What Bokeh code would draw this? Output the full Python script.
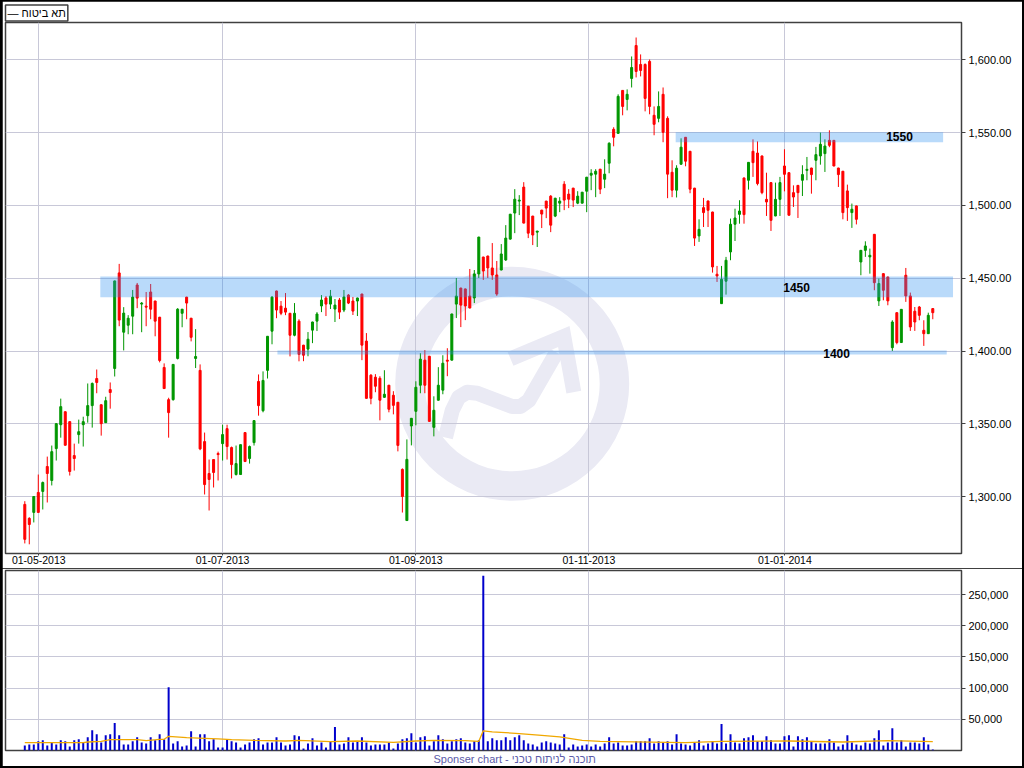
from bokeh.plotting import figure
from bokeh.layouts import column
from bokeh.models import (FixedTicker, NumeralTickFormatter, Range1d, Title, ColumnDataSource)
from bokeh.embed import file_html
from bokeh.resources import INLINE
from bokeh.core.properties import value

# ---------------- data ----------------
SERIES_NAME = "תא ביטוח"
FOOTER = "Sponser chart - תוכנה לניתוח טכני"

OPEN = [1294.8, 1285.2, 1289.3, 1303.0, 1303.7, 1320.8, 1311.2, 1333.1, 1349.5, 1358.4,
        1351.6, 1328.3, 1342.7, 1349.5, 1355.7, 1362.6, 1381.2, 1363.2, 1350.9, 1373.6,
        1388.1, 1453.7, 1413.0, 1417.8, 1424.0, 1445.4, 1432.3, 1430.9, 1440.6, 1434.4,
        1423.3, 1388.8, 1366.7, 1366.7, 1395.0, 1426.0, 1437.1, 1422.6, 1395.0, 1386.8,
        1337.9, 1316.0, 1325.6, 1329.7, 1336.5, 1346.8, 1333.8, 1315.3, 1315.3, 1344.1,
        1326.3, 1337.2, 1379.2, 1359.1, 1386.8, 1413.7, 1441.3, 1430.9, 1429.5, 1426.0,
        1410.9, 1420.6, 1404.1, 1401.4, 1414.4, 1420.6, 1431.0, 1436.5, 1432.3, 1428.9,
        1435.1, 1428.2, 1438.5, 1434.4, 1434.4, 1439.2, 1406.9, 1383.5, 1382.1, 1381.4,
        1368.3, 1376.6, 1369.7, 1364.9, 1318.8, 1283.7, 1348.6, 1358.7, 1376.6, 1393.8,
        1396.5, 1347.7, 1366.3, 1373.2, 1393.8, 1393.8, 1432.3, 1443.3, 1442.7, 1437.8,
        1436.5, 1453.0, 1464.6, 1465.3, 1457.1, 1452.3, 1455.7, 1462.6, 1476.9, 1494.8,
        1503.0, 1512.6, 1499.5, 1492.7, 1481.7, 1496.8, 1503.0, 1506.4, 1492.7, 1501.6,
        1514.6, 1507.8, 1511.9, 1501.6, 1501.6, 1509.8, 1520.8, 1521.5, 1524.9, 1518.0,
        1529.0, 1552.3, 1549.5, 1579.0, 1572.8, 1587.2, 1609.8, 1596.8, 1596.8, 1598.9,
        1561.9, 1559.8, 1576.3, 1559.8, 1522.8, 1510.5, 1528.3, 1546.8, 1537.2, 1511.9,
        1479.1, 1498.5, 1503.1, 1495.5, 1452.8, 1432.6, 1448.0, 1468.1, 1487.1, 1493.9,
        1518.9, 1517.3, 1537.2, 1536.0, 1534.0, 1504.2, 1515.7, 1492.8, 1504.2, 1527.1,
        1522.5, 1508.8, 1513.8, 1517.3, 1524.1, 1525.7, 1531.0, 1534.0, 1535.6, 1544.7,
        1544.7, 1525.7, 1523.5, 1510.0, 1495.1, 1499.7, 1461.2, 1469.2, 1464.7, 1480.2,
        1434.5, 1453.2, 1450.9, 1402.4, 1426.4, 1405.9, 1452.1, 1437.9, 1427.4, 1430.3,
        1414.3, 1412.0, 1429.2]
HIGH = [1297.0, 1286.0, 1300.2, 1315.3, 1310.5, 1327.6, 1335.2, 1350.5, 1367.4, 1358.6,
        1351.8, 1336.5, 1353.0, 1355.0, 1377.8, 1378.5, 1387.4, 1363.4, 1368.7, 1378.5,
        1448.4, 1459.9, 1430.2, 1424.7, 1442.0, 1446.8, 1433.7, 1440.6, 1446.1, 1434.6,
        1423.5, 1391.6, 1368.0, 1391.0, 1429.5, 1428.9, 1437.3, 1422.8, 1415.1, 1390.9,
        1344.1, 1325.6, 1325.8, 1331.0, 1349.5, 1349.5, 1334.5, 1335.2, 1335.9, 1344.3,
        1335.2, 1352.5, 1384.0, 1386.1, 1410.4, 1437.8, 1441.5, 1434.4, 1439.9, 1426.2,
        1433.0, 1421.9, 1404.3, 1413.1, 1420.2, 1426.8, 1438.5, 1437.8, 1442.0, 1435.8,
        1436.5, 1442.0, 1439.2, 1437.2, 1436.7, 1439.4, 1412.4, 1384.2, 1384.2, 1382.8,
        1386.9, 1376.8, 1372.5, 1365.1, 1319.5, 1339.4, 1354.1, 1379.3, 1398.6, 1400.7,
        1396.7, 1369.0, 1389.0, 1397.2, 1402.0, 1425.7, 1450.2, 1443.5, 1442.9, 1456.4,
        1455.7, 1478.5, 1464.8, 1465.5, 1474.2, 1461.9, 1473.5, 1486.5, 1494.2, 1511.2,
        1507.1, 1516.0, 1499.7, 1492.9, 1482.6, 1497.0, 1503.2, 1507.1, 1505.2, 1505.7,
        1516.7, 1511.2, 1512.1, 1509.8, 1509.3, 1519.6, 1524.9, 1524.9, 1525.1, 1531.7,
        1543.4, 1553.7, 1576.3, 1579.2, 1579.7, 1602.3, 1615.3, 1603.7, 1597.5, 1600.2,
        1568.0, 1578.3, 1581.0, 1561.2, 1531.0, 1527.6, 1546.1, 1547.0, 1537.4, 1512.1,
        1490.5, 1505.2, 1503.3, 1495.7, 1458.5, 1458.5, 1464.7, 1491.0, 1497.8, 1503.6,
        1519.1, 1529.8, 1545.4, 1544.0, 1534.2, 1522.5, 1515.9, 1515.7, 1519.6, 1538.6,
        1522.7, 1513.8, 1514.0, 1527.6, 1533.3, 1525.9, 1540.2, 1550.0, 1545.4, 1551.6,
        1544.9, 1525.9, 1523.7, 1514.3, 1501.3, 1499.9, 1469.4, 1475.4, 1470.4, 1480.4,
        1449.8, 1453.4, 1451.1, 1421.2, 1426.6, 1428.9, 1457.1, 1440.2, 1430.3, 1431.0,
        1421.2, 1426.4, 1429.4]
LOW = [1268.0, 1267.4, 1282.4, 1289.3, 1291.3, 1296.1, 1307.8, 1324.9, 1340.6, 1335.2,
       1314.6, 1318.0, 1336.5, 1334.5, 1350.9, 1347.5, 1371.1, 1342.0, 1350.7, 1360.5,
       1382.6, 1417.1, 1400.5, 1411.6, 1411.6, 1429.5, 1413.0, 1417.1, 1421.9, 1410.2,
       1392.3, 1374.0, 1340.6, 1366.0, 1394.3, 1416.4, 1421.9, 1406.7, 1388.4, 1332.0,
       1301.6, 1290.6, 1306.4, 1311.2, 1324.9, 1325.6, 1312.6, 1314.6, 1315.1, 1324.0,
       1322.8, 1335.2, 1355.7, 1358.0, 1381.2, 1404.7, 1422.6, 1424.7, 1424.7, 1396.4,
       1410.2, 1393.0, 1393.1, 1396.5, 1405.5, 1413.8, 1426.8, 1424.1, 1428.9, 1420.0,
       1422.0, 1426.8, 1432.3, 1424.8, 1424.1, 1393.8, 1367.4, 1363.5, 1371.8, 1352.5,
       1368.1, 1358.0, 1356.6, 1331.2, 1289.2, 1283.5, 1335.3, 1349.1, 1371.1, 1371.1,
       1351.6, 1341.5, 1366.1, 1370.4, 1382.8, 1393.6, 1422.7, 1416.5, 1421.3, 1429.4,
       1433.0, 1450.2, 1448.9, 1450.2, 1448.9, 1438.0, 1455.5, 1461.9, 1476.5, 1481.0,
       1493.4, 1487.7, 1477.6, 1472.8, 1471.5, 1484.5, 1491.3, 1481.7, 1492.0, 1495.4,
       1496.8, 1498.2, 1498.9, 1500.9, 1501.4, 1495.4, 1510.5, 1505.7, 1507.8, 1511.9,
       1522.1, 1540.6, 1549.3, 1561.9, 1565.3, 1581.0, 1587.9, 1588.6, 1564.6, 1562.6,
       1548.2, 1557.1, 1543.4, 1505.0, 1505.7, 1505.5, 1528.1, 1526.9, 1508.4, 1472.2,
       1475.0, 1485.2, 1485.2, 1453.9, 1447.5, 1432.4, 1438.8, 1462.4, 1475.6, 1487.5,
       1487.5, 1510.9, 1519.6, 1513.8, 1507.7, 1492.8, 1482.5, 1492.6, 1492.8, 1509.7,
       1493.1, 1499.0, 1491.4, 1506.5, 1517.3, 1508.1, 1517.3, 1528.0, 1523.0, 1540.0,
       1526.9, 1512.7, 1490.5, 1489.4, 1484.6, 1487.0, 1452.1, 1464.7, 1453.2, 1441.8,
       1431.0, 1434.9, 1431.5, 1400.1, 1404.7, 1405.7, 1433.8, 1413.9, 1413.9, 1421.2,
       1403.6, 1411.8, 1421.9]
CLOSE = [1270.8, 1281.0, 1300.2, 1289.3, 1309.8, 1316.0, 1331.0, 1350.2, 1361.9, 1335.4,
         1317.4, 1326.3, 1344.7, 1351.6, 1362.6, 1377.8, 1378.5, 1350.2, 1366.0, 1371.6,
         1448.2, 1421.3, 1426.1, 1422.6, 1437.1, 1436.4, 1433.0, 1430.2, 1428.8, 1420.6,
         1393.6, 1374.3, 1357.8, 1390.9, 1428.8, 1428.8, 1433.0, 1409.5, 1396.3, 1332.9,
         1308.4, 1311.9, 1316.7, 1329.0, 1342.7, 1334.5, 1322.1, 1322.8, 1335.8, 1324.2,
         1334.5, 1352.3, 1362.6, 1379.9, 1410.2, 1437.1, 1428.2, 1426.0, 1426.8, 1410.9,
         1426.0, 1397.8, 1397.2, 1408.2, 1420.0, 1425.5, 1435.1, 1432.3, 1437.8, 1431.6,
         1426.8, 1437.2, 1433.0, 1427.5, 1436.5, 1404.1, 1367.6, 1367.6, 1375.9, 1366.3,
         1370.4, 1360.1, 1362.8, 1335.3, 1300.2, 1325.7, 1353.9, 1375.2, 1394.5, 1376.6,
         1351.8, 1359.4, 1376.6, 1391.7, 1393.1, 1425.5, 1437.8, 1431.6, 1431.0, 1429.6,
         1453.0, 1478.3, 1455.0, 1457.1, 1452.3, 1439.2, 1466.7, 1477.6, 1494.0, 1504.3,
         1503.7, 1487.9, 1481.0, 1479.7, 1482.4, 1494.1, 1498.2, 1486.5, 1505.0, 1503.0,
         1503.7, 1504.3, 1503.7, 1506.4, 1509.1, 1519.4, 1522.1, 1523.5, 1511.2, 1521.5,
         1542.7, 1546.8, 1574.9, 1568.0, 1576.3, 1594.7, 1592.0, 1592.7, 1573.5, 1568.0,
         1555.7, 1568.0, 1550.2, 1521.5, 1510.5, 1525.6, 1540.0, 1530.4, 1511.2, 1477.6,
         1483.6, 1495.1, 1496.7, 1457.8, 1451.6, 1449.3, 1462.4, 1487.1, 1491.4, 1496.2,
         1493.7, 1529.6, 1529.4, 1515.0, 1508.8, 1502.4, 1489.8, 1504.2, 1515.7, 1521.4,
         1493.3, 1505.8, 1508.8, 1521.2, 1524.8, 1521.2, 1534.9, 1542.0, 1540.8, 1541.3,
         1527.1, 1521.2, 1495.1, 1498.5, 1497.4, 1490.5, 1469.2, 1472.2, 1465.8, 1447.0,
         1446.4, 1441.8, 1434.5, 1420.0, 1405.9, 1428.7, 1437.9, 1416.6, 1420.0, 1424.6,
         1412.0, 1424.6, 1426.4]
VOLUME = [8100, 9800, 9800, 14700, 16300, 8100, 11900, 9800, 16300, 14700,
          6500, 16300, 17900, 13000, 21200, 32600, 26000, 13000, 24400, 26000,
          44000, 24400, 9800, 9800, 14700, 21200, 13000, 11400, 21200, 16300,
          26000, 17900, 101500, 11400, 14700, 6500, 8100, 31000, 6500, 26000,
          26000, 14700, 17900, 4900, 4900, 17900, 14700, 13000, 4900, 9800,
          13000, 17900, 19500, 9800, 13000, 13000, 21200, 13000, 8100, 9800,
          24400, 22800, 3300, 11400, 19500, 8100, 13000, 4900, 14700, 37500,
          9800, 11400, 21200, 13000, 14700, 21200, 13000, 8100, 9800, 9800,
          9800, 13000, 3300, 11400, 17900, 19500, 27700, 13000, 21200, 22800,
          8100, 14700, 24400, 17900, 11400, 14700, 17900, 19500, 13000, 11400,
          14700, 16300, 280000, 14700, 19500, 16300, 16300, 21200, 16300, 21200,
          24400, 16300, 11400, 9800, 6500, 13000, 14700, 13000, 11400, 9800,
          26000, 4900, 9800, 6500, 8100, 9800, 6500, 9800, 6500, 11400,
          21200, 11400, 13000, 8100, 8100, 9800, 14700, 14700, 14700, 19500,
          11400, 14700, 13000, 14700, 9800, 26000, 11400, 9800, 8100, 13000,
          16300, 8100, 11400, 14700, 11400, 42400, 11400, 26000, 13000, 11400,
          19500, 21200, 24400, 14700, 14700, 22800, 16300, 11400, 11400, 22800,
          24400, 6500, 22800, 17900, 21200, 14700, 11400, 11400, 11400, 17900,
          13000, 6500, 9800, 24400, 13000, 9800, 8100, 13000, 11400, 19500,
          32600, 8100, 13000, 35800, 13000, 16300, 6500, 13000, 13000, 11400,
          21200, 9800, 1600]
# volume average line, read at points along the curve (bar index, value)
AVG_IDX = [0, 13, 14, 17, 19, 25, 27, 30, 31, 32, 36, 40, 43, 46, 51, 58, 61, 68, 74, 82,
           87, 91, 98, 101, 102, 104, 110, 115, 119, 124, 128, 147, 155, 170, 182, 192, 202]
AVG_VAL = [12500, 12500, 13600, 14700, 17400, 17400, 15700, 17900, 17900, 22800, 20600,
           19500, 18500, 17400, 16300, 15200, 16300, 14100, 15200, 13000, 15200, 16300,
           15700, 14700, 31500, 29900, 27200, 24400, 21700, 16300, 14700, 12500, 14700,
           15200, 13600, 15700, 14100]

DATE_TICKS = [3.1, 44.0, 87.0, 125.5, 169.1]
DATE_LABELS = ["01-05-2013", "01-07-2013", "01-09-2013", "01-11-2013", "01-01-2014"]
PRICE_TICKS = [1300, 1350, 1400, 1450, 1500, 1550, 1600]
VOL_TICKS = [50000, 100000, 150000, 200000, 250000]

BAND_NAMES = ["1550", "1450", "1400"]
BAND_TOP = [1550.3, 1451.2, 1400.4]
BAND_BOTTOM = [1543.4, 1437.0, 1397.7]
BAND_START = [144.8, 16.8, 56.2]
BAND_END = [204.3, 206.5, 205.1]
BAND_LABEL_X = [194.6, 171.7, 180.6]
BAND_LABEL_Y = [1547.3, 1444.0, 1398.7]

# ---------------- layout helpers (page pixels of the 1024x768 reference) ----------------
REF_I0, REF_STEP = 24.3, 4.495          # page x of bar 0 and px per bar
REF_P0, REF_PSCALE = 59.3, 1.4567       # page y of 1600 and px per point

def xd(px):
    return (px - REF_I0) / REF_STEP

def yd(py):
    return 1600 - (py - REF_P0) / REF_PSCALE

FONT = "Liberation Sans"
GRID = "#C8C8D8"
FRAME = "#404040"
GREEN, RED = "#009600", "#FF0000"

FW = 1020                 # figure width inside the 2px black page frame
P_H = 567                 # page y 1 .. 568
V_H = 198                 # page y 568 .. 766
left_b = 3                # frame left at page x 5
right_b = FW - 959        # frame right at page x 961

n = len(OPEN)
idx = list(range(n))
src = ColumnDataSource(dict(
    x=idx, high=HIGH, low=LOW,
    top=[max(o, c) for o, c in zip(OPEN, CLOSE)],
    bottom=[min(o, c) for o, c in zip(OPEN, CLOSE)],
    color=[GREEN if c >= o else RED for o, c in zip(OPEN, CLOSE)],
))

p = figure(width=FW, height=P_H, output_backend="svg", toolbar_location=None,
           x_range=Range1d(xd(5), xd(961)), y_range=Range1d(yd(553), yd(22)),
           y_axis_location="right", min_border_left=left_b, min_border_right=right_b,
           min_border_top=21, min_border_bottom=15, margin=(1, 2, 0, 2))
p.outline_line_color = FRAME
p.outline_line_width = 1.5

# watermark
wm_x, wm_y = xd(511.7), yd(383.3)
wm_color = "#EAEAF4"
p.annulus(x=[wm_x], y=[wm_y], inner_radius=87.5, outer_radius=117,
          inner_radius_units="screen", outer_radius_units="screen",
          fill_color=wm_color, line_color=None, level="image")
wave = [(445, 437), (451.7, 410), (458.3, 396.7), (466.7, 391.7), (476.7, 392.7),
        (511.7, 406), (520, 406), (528.3, 400), (556, 352)]
arrow = [(510, 358.3), (563.3, 336), (573.3, 391.7)]
p.line(x=[xd(a) for a, b in wave], y=[yd(b) for a, b in wave], line_color=wm_color,
       line_width=15, line_join="round", level="image")
p.line(x=[xd(a) for a, b in arrow], y=[yd(b) for a, b in arrow], line_color=wm_color,
       line_width=15, line_join="miter", level="image")

# candles
px_per_bar = REF_STEP
p.segment(x0="x", x1="x", y0="low", y1="high", color="color", line_width=1, source=src)
p.vbar(x="x", top="top", bottom="bottom", width=2 / px_per_bar, fill_color="color",
       line_color="color", line_width=1, source=src)

# support / resistance bands
p.quad(left=BAND_START, right=BAND_END, bottom=BAND_BOTTOM, top=BAND_TOP,
       fill_color="#2A90F0", fill_alpha=0.33, line_color=None)
p.text(x=BAND_LABEL_X, y=BAND_LABEL_Y, text=BAND_NAMES, text_font=value(FONT),
       text_font_style="bold", text_font_size="12px", text_align="center",
       text_baseline="middle", text_color="#000000")

# axes and grids
p.xaxis.ticker = FixedTicker(ticks=DATE_TICKS)
p.xaxis.major_label_overrides = {t: l for t, l in zip(DATE_TICKS, DATE_LABELS)}
p.xaxis.minor_tick_line_color = None
p.xaxis.major_tick_out = 2
p.xaxis.major_tick_in = 0
p.xaxis.major_label_standoff = 0
p.xaxis.axis_line_color = None
p.xaxis.major_tick_line_color = FRAME
p.xaxis.major_label_text_font = FONT
p.xaxis.major_label_text_font_size = "10.5px"
p.xaxis.major_label_text_color = "#000000"
p.xgrid.ticker = FixedTicker(ticks=DATE_TICKS)

p.yaxis.ticker = FixedTicker(ticks=PRICE_TICKS)
p.yaxis.formatter = NumeralTickFormatter(format="0,0.00")
p.yaxis.minor_tick_line_color = None
p.yaxis.major_tick_out = 4
p.yaxis.major_tick_in = 0
p.yaxis.major_label_standoff = 3
p.yaxis.axis_line_color = FRAME
p.yaxis.major_tick_line_color = FRAME
p.yaxis.major_label_text_font = FONT
p.yaxis.major_label_text_font_size = "11px"
p.yaxis.major_label_text_color = "#000000"
p.ygrid.ticker = FixedTicker(ticks=PRICE_TICKS)
for g in (p.xgrid, p.ygrid):
    g.grid_line_color = GRID
    g.grid_line_width = 1

# series name box at top-left
p.add_layout(Title(text="— " + SERIES_NAME, align="left", text_font=FONT,
                   text_font_size="11px", text_font_style="normal", text_color="#000000",
                   border_line_color=FRAME, border_line_width=1.5, padding=2,
                   background_fill_color="#FFFFFF", standoff=3, offset=0), "above")

# ---------------- volume panel ----------------
v = figure(width=FW, height=V_H, output_backend="svg", toolbar_location=None,
           x_range=p.x_range, y_range=Range1d(0, 288500),
           x_axis_location=None, y_axis_location="right",
           min_border_left=left_b, min_border_right=right_b,
           min_border_top=2, min_border_bottom=16, margin=(0, 2, 2, 2))
v.outline_line_color = FRAME
v.outline_line_width = 1.5
v.vbar(x=idx, top=VOLUME, bottom=0, width=2 / px_per_bar, fill_color="#0000CC", line_color=None)
v.line(x=AVG_IDX, y=AVG_VAL, line_color="#F0A800", line_width=1.3)
v.xgrid.ticker = FixedTicker(ticks=DATE_TICKS)
v.xgrid.grid_line_color = GRID
v.yaxis.ticker = FixedTicker(ticks=VOL_TICKS)
v.yaxis.formatter = NumeralTickFormatter(format="0,0")
v.yaxis.minor_tick_line_color = None
v.yaxis.major_tick_out = 4
v.yaxis.major_tick_in = 0
v.yaxis.major_label_standoff = 3
v.yaxis.axis_line_color = FRAME
v.yaxis.major_tick_line_color = FRAME
v.yaxis.major_label_text_font = FONT
v.yaxis.major_label_text_font_size = "11px"
v.yaxis.major_label_text_color = "#000000"
v.ygrid.ticker = FixedTicker(ticks=VOL_TICKS)
v.ygrid.grid_line_color = GRID

v.add_layout(Title(text=FOOTER, align="left", text_font=FONT, text_font_size="11px",
                   text_font_style="normal", text_color="#5B5BA8", standoff=0,
                   offset=428), "below")

layout = column(p, v, spacing=0, styles={"background-color": "#000000"})
open("out.html", "w").write(file_html(layout, INLINE))
